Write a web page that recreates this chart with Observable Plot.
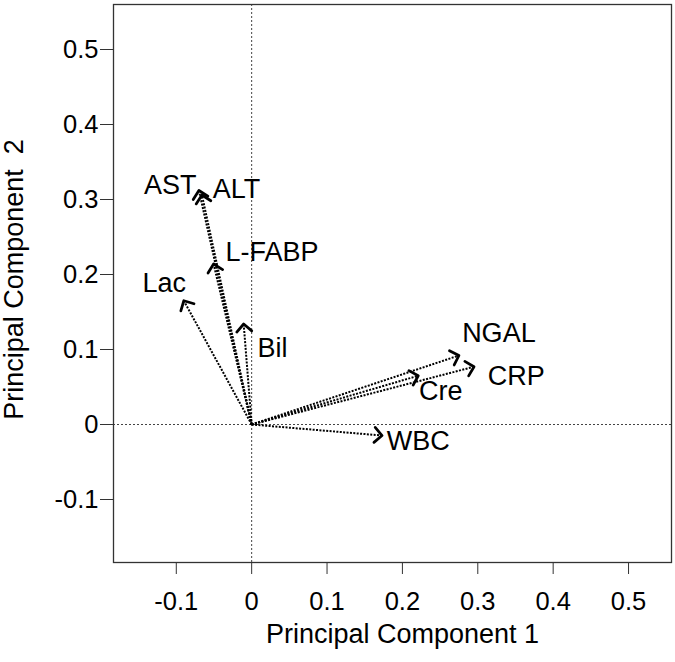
<!DOCTYPE html>
<html>
<head>
<meta charset="utf-8">
<script src="https://cdn.jsdelivr.net/npm/d3@7"></script>
<script src="https://cdn.jsdelivr.net/npm/@observablehq/plot@0.6"></script>
<style>
  html, body { margin: 0; padding: 0; background: #fff; }
  #chart svg { display: block; }
</style>
</head>
<body>
<div id="chart"></div>
<script>
// Loadings (arrow tips)
const variables = ["AST", "ALT", "L-FABP", "Lac", "Bil", "NGAL", "CRP", "Cre", "WBC"];
const pc1 = [-0.070, -0.066, -0.0505, -0.090, -0.0106, 0.275, 0.295, 0.221, 0.173];
const pc2 = [0.312, 0.306, 0.214, 0.165, 0.134, 0.092, 0.077, 0.065, -0.0147];
// Label anchor points (data units)
const labelPC1 = [-0.108, -0.020, 0.027, -0.116, 0.0275, 0.328, 0.351, 0.251, 0.221];
const labelPC2 = [0.319, 0.313, 0.229, 0.188, 0.102, 0.121, 0.064, 0.044, -0.023];
// Axis ticks
const xTicks = [-0.1, 0, 0.1, 0.2, 0.3, 0.4, 0.5];
const yTicks = [-0.1, 0, 0.1, 0.2, 0.3, 0.4, 0.5];
const xTitle = "Principal Component 1";
const yTitle = "Principal Component  2";

const loadings = variables.map((v, i) => ({name: v, x: pc1[i], y: pc2[i], lx: labelPC1[i], ly: labelPC2[i]}));
const fmt = d => d === 0 ? "0" : d.toFixed(1);
const font = "Liberation Sans, Arial, Helvetica, sans-serif";

const svg = Plot.plot({
  width: 675,
  height: 662,
  marginLeft: 113,
  marginRight: 4,
  marginTop: 4,
  marginBottom: 100,
  style: {fontFamily: font, background: "#fff", color: "#000"},
  x: {domain: [-0.1833, 0.557]},
  y: {domain: [-0.184, 0.56]},
  marks: [
    Plot.ruleX([0], {stroke: "#444", strokeWidth: 1, strokeDasharray: "2,2"}),
    Plot.ruleY([0], {stroke: "#444", strokeWidth: 1, strokeDasharray: "2,2"}),
    Plot.link(loadings, {x1: d => 0, y1: d => 0, x2: "x", y2: "y", stroke: "#000", strokeWidth: 2, strokeDasharray: "2,1.4", markerEnd: "arrow"}),
    Plot.text(loadings, {x: "lx", y: "ly", text: "name", fontSize: 27, fill: "#000", textAnchor: "middle", lineAnchor: "middle"}),
    Plot.axisX({ticks: xTicks, tickFormat: fmt, tickSize: 12, tickPadding: 17, fontSize: 25.5, label: null, stroke: "#333"}),
    Plot.axisY({ticks: yTicks, tickFormat: fmt, tickSize: 13, tickPadding: 2, fontSize: 25.5, label: null, stroke: "#333"}),
    Plot.text([xTitle], {frameAnchor: "bottom", dx: 10, dy: 72, fontSize: 27, textAnchor: "middle", lineAnchor: "middle", text: d => d}),
    Plot.text([yTitle], {frameAnchor: "left", dx: -99, dy: -4, rotate: -90, fontSize: 27, textAnchor: "middle", lineAnchor: "middle", text: d => d}),
    Plot.frame({stroke: "#333", strokeWidth: 1.3})
  ]
});

svg.querySelectorAll("marker").forEach(m => {
  m.setAttribute("markerWidth", 12.5);
  m.setAttribute("markerHeight", 12.5);
  m.setAttribute("refX", 1.5);
  m.setAttribute("stroke-width", 1.1);
  m.setAttribute("stroke-dasharray", "none");
});

document.getElementById("chart").appendChild(svg);
</script>
</body>
</html>
